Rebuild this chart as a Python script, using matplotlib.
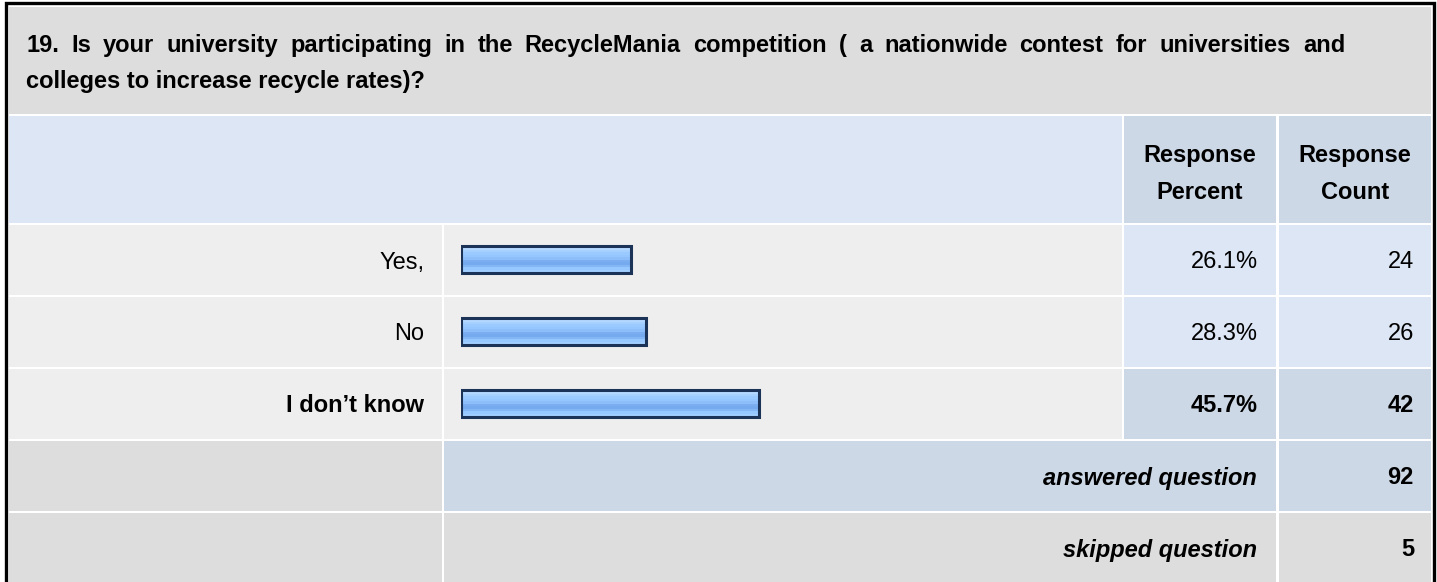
import numpy as np
import matplotlib
matplotlib.use("Agg")
import matplotlib.pyplot as plt
from matplotlib.patches import Rectangle
from matplotlib.font_manager import FontProperties

# ---- data ----
title_lines = ["19. Is your university participating in the RecycleMania competition ( a nationwide contest for universities and",
               "colleges to increase recycle rates)?"]
answers = ["Yes,", "No", "I don\u2019t know"]
percents = [26.1, 28.3, 45.7]
counts = [24, 26, 42]
answered_count = 92
skipped_count = 5
header_cols = ["Response\nPercent", "Response\nCount"]

W, H = 1437, 582
FONT = "Liberation Sans"
FS = 17      # body text size (pt)
FT = 17      # title size (pt)

fig = plt.figure(figsize=(W / 100, H / 100), dpi=100)
ax = fig.add_axes([0, 0, 1, 1])
ax.set_xlim(0, W)
ax.set_ylim(H, 0)
ax.axis("off")
renderer = fig.canvas.get_renderer()

def cell(x0, x1, y0, y1, color):
    ax.add_patch(Rectangle((x0, y0), x1 - x0, y1 - y0, facecolor=color, edgecolor="none", zorder=1))

def txt(x, y, s, **kw):
    kw.setdefault("fontsize", FS)
    ax.text(x, y, s, family=FONT, va="baseline", zorder=3, **kw)

def adv(s, prop):
    # advance width (px) of s, including spaces, via sentinels
    w1 = renderer.get_text_width_height_descent("|" + s + "|", prop, ismath=False)[0]
    w0 = renderer.get_text_width_height_descent("||", prop, ismath=False)[0]
    return w1 - w0

def justified(x0, x1, y, line, **kw):
    prop = FontProperties(family=FONT, size=kw.get("fontsize", FS), weight=kw.get("weight", "normal"))
    words = line.split(" ")
    natural = adv(line, prop)
    extra = (x1 - x0 - natural) / (len(words) - 1)
    for k, wd in enumerate(words):
        prefix = " ".join(words[:k]) + (" " if k else "")
        xs = x0 + adv(prefix, prop) + extra * k
        txt(xs, y, wd, ha="left", **kw)

GRAY = "#DDDDDD"
LIGHT = "#EEEEEE"
BLUE = "#DCE6F4"
BLUE2 = "#CCD8E6"

L0, L1 = 9, 442
B0, B1 = 444, 1122
P0, P1 = 1124, 1276
C0, C1 = 1279, 1431

# outer border
ax.plot([5.5, 5.5, 1433.5, 1433.5], [H + 5, 3, 3, H + 5], color="black", lw=2.4, solid_joinstyle="miter", zorder=5)

# title cell
cell(L0, C1, 7, 114, GRAY)
justified(26, 1345, 52, title_lines[0], fontsize=FT, weight="bold")
txt(26, 88, title_lines[1], fontsize=FT, weight="bold", ha="left")

# header row
cell(L0, B1, 116, 223, BLUE)
cell(P0, P1, 116, 223, BLUE2)
cell(C0, C1, 116, 223, BLUE2)
for (a, b), lab in zip([(P0, P1), (C0, C1)], header_cols):
    l1, l2 = lab.split("\n")
    txt((a + b) / 2, 162, l1, weight="bold", ha="center")
    txt((a + b) / 2, 199, l2, weight="bold", ha="center")

n = len(answers)
top_idx = int(np.argmax(counts))
row_top = 225 + 72 * np.arange(n)
row_ctr = row_top + 35
for i in range(n):
    y0, y1 = row_top[i], row_top[i] + 70
    hl = i == top_idx
    cell(L0, L1, y0, y1, LIGHT)
    cell(B0, B1, y0, y1, LIGHT)
    cell(P0, P1, y0, y1, BLUE2 if hl else BLUE)
    cell(C0, C1, y0, y1, BLUE2 if hl else BLUE)
    w = "bold" if hl else "normal"
    yb = row_ctr[i] + 8.5
    txt(424, yb, answers[i], weight=w, ha="right")
    txt(1258, yb, f"{percents[i]:.1f}%", weight=w, ha="right")
    txt(1414, yb, f"{counts[i]}", weight=w, ha="right")

# answered / skipped
ya = 225 + 72 * n
cell(L0, L1, ya, ya + 70, GRAY)
cell(B0, P1, ya, ya + 70, BLUE2)
cell(C0, C1, ya, ya + 70, BLUE2)
txt(1257, ya + 35 + 8.5, "answered question", weight="bold", style="italic", ha="right")
txt(1414, ya + 35 + 8.5, f"{answered_count}", weight="bold", ha="right")
ys = ya + 72
cell(L0, L1, ys, ys + 72, GRAY)
cell(B0, P1, ys, ys + 72, GRAY)
cell(C0, C1, ys, ys + 72, GRAY)
txt(1257, ys + 35 + 8.5, "skipped question", weight="bold", style="italic", ha="right")
txt(1414, ys + 35 + 8.5, f"{skipped_count}", weight="bold", ha="right")

# ---- bars ----
bax = fig.add_axes([461 / W, 0, 653 / W, 1])
bax.patch.set_alpha(0)
bax.axis("off")
bh = 27
grad_colors = ["#C8E2FF", "#B4D8FF", "#A6D0FF", "#9ACAFF", "#96C6FF", "#8EBEFA", "#7AAEF0", "#76AAEE", "#82B6F4", "#96C8FF", "#A0CEFF"]
grad = np.array([matplotlib.colors.to_rgb(c) for c in grad_colors])[:, None, :]
for i in range(n):
    bax.imshow(grad, extent=(0, percents[i], row_ctr[i] - 1 + bh / 2, row_ctr[i] - 1 - bh / 2),
               aspect="auto", interpolation="nearest", zorder=2)
bax.barh(row_ctr - 1, percents, height=bh, color="none", edgecolor="#1C3358", linewidth=2.2, zorder=3)
bax.set_xlim(0, 100)
bax.set_ylim(H, 0)

fig.savefig("out.png", dpi=100, facecolor="white")
